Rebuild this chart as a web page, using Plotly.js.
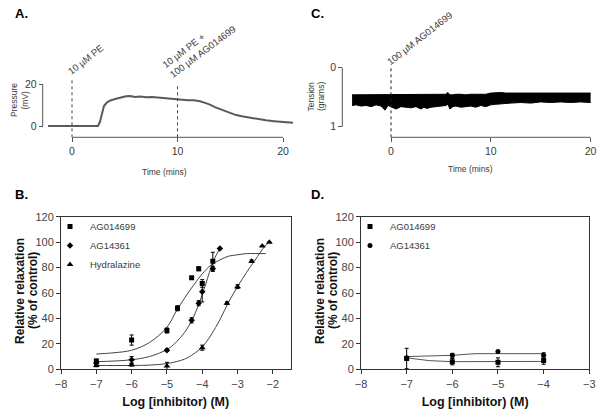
<!DOCTYPE html>
<html>
<head>
<meta charset="utf-8">
<script src="https://cdn.plot.ly/plotly-3.0.1.min.js"></script>
<style>html,body{margin:0;padding:0;background:#fff;}#chart{width:602px;height:420px;}</style>
</head>
<body>
<div id="chart"></div>
<script>
// ---------- Panel A: perfusion pressure trace ----------
const timeA = [-2.27, 2.46, 2.65, 2.84, 3.03, 3.32, 3.70, 4.17, 4.64, 5.12, 5.50, 5.97, 6.45, 7.01, 7.58, 8.15, 8.72, 9.29, 9.86, 10.43, 11.0, 11.56, 12.13, 12.61, 13.08, 13.55, 14.03, 14.5, 14.98, 15.55, 16.11, 16.87, 17.63, 18.39, 19.15, 19.91, 20.95];
const pressureA = [0, 0, 2, 6, 9.5, 11.3, 12.3, 13.0, 13.6, 14.2, 14.3, 13.8, 14.0, 13.7, 13.8, 13.5, 13.5, 13.0, 12.7, 12.6, 12.3, 12.3, 11.8, 11.0, 10.2, 9.0, 8.0, 7.0, 6.0, 5.2, 4.6, 3.9, 3.2, 2.7, 2.3, 2.0, 1.5];
const ticksA = [0, 10, 20];
const yticksA = [0, 20];

// ---------- Panel C: tension trace (envelope of the noisy band) ----------
const timeC = [-3.9, -3.5, -3, -2.5, -2, -1.5, -1, -0.6, -0.3, 0, 0.5, 1, 1.5, 2, 2.5, 3, 3.3, 3.6, 4, 4.5, 5, 5.5, 5.7, 5.9, 6.2, 6.5, 7, 7.5, 8, 8.5, 9, 9.5, 10, 10.5, 11, 11.5, 12, 13, 14, 15, 16, 17, 18, 19, 20];
const tensionTopC = [0.46, 0.46, 0.45, 0.46, 0.46, 0.45, 0.46, 0.46, 0.45, 0.46, 0.46, 0.46, 0.45, 0.46, 0.46, 0.45, 0.46, 0.46, 0.45, 0.46, 0.46, 0.45, 0.42, 0.46, 0.46, 0.45, 0.45, 0.46, 0.45, 0.45, 0.44, 0.45, 0.43, 0.42, 0.42, 0.43, 0.43, 0.43, 0.42, 0.43, 0.43, 0.42, 0.43, 0.43, 0.43];
const tensionBottomC = [0.64, 0.63, 0.65, 0.64, 0.66, 0.63, 0.65, 0.72, 0.64, 0.66, 0.70, 0.66, 0.67, 0.68, 0.66, 0.70, 0.67, 0.69, 0.67, 0.66, 0.65, 0.64, 0.62, 0.70, 0.66, 0.65, 0.67, 0.66, 0.65, 0.67, 0.64, 0.66, 0.63, 0.62, 0.61, 0.60, 0.60, 0.59, 0.60, 0.58, 0.59, 0.58, 0.59, 0.58, 0.59];
const ticksC = [0, 10, 20];
const yticksC = [0, 1];

// ---------- Panel B: concentration-response ----------
const logAG014699 = [-7, -6, -5, -4.7, -4.3, -4.1, -4, -3.7];
const relAG014699 = [6.5, 23, 30.5, 48, 72, 79, 67.5, 85];
const errAG014699 = [1.5, 4, 2, 2, 0, 1.5, 3, 7];
const logAG14361 = [-7, -6, -5, -4.3, -4.1, -4, -3.7, -3.5];
const relAG14361 = [5, 7.5, 15, 38.5, 52, 61, 79, 95];
const errAG14361 = [1, 2.5, 1, 2, 2, 8, 2, 0];
const logHydralazine = [-7, -6, -5, -4, -3.3, -3, -2.6, -2.3, -2.1];
const relHydralazine = [3, 3.5, 2.5, 17, 52, 65, 85, 97, 100];
const errHydralazine = [1, 1, 3, 2, 1, 1.5, 1, 0, 0];
// fitted curves
const fitXAG014699 = [-7, -6.5, -6, -5.5, -5, -4.75, -4.5, -4.25, -4, -3.75, -3.5, -3.25, -3, -2.75, -2.5, -2.2];
const fitYAG014699 = [12, 13, 15, 21, 33, 45, 56, 66, 75, 82, 86, 89, 90, 91, 91, 91];
const fitXAG14361 = [-7, -6.5, -6, -5.5, -5, -4.75, -4.5, -4.3, -4.1, -4, -3.9, -3.8, -3.7, -3.6, -3.5];
const fitYAG14361 = [6, 6.5, 7.5, 10, 15.5, 21, 29, 38, 51, 59, 67, 76, 84, 90, 95];
const fitXHydralazine = [-7, -6.5, -6, -5.5, -5, -4.5, -4.25, -4, -3.75, -3.5, -3.25, -3, -2.75, -2.5, -2.25, -2.1];
const fitYHydralazine = [3, 3, 3, 3.3, 4.5, 8, 12, 17.5, 27, 39, 53, 65, 76, 86, 96, 100];
const ticksB = [-8, -7, -6, -5, -4, -3, -2];

// ---------- Panel D ----------
const logD = [-7, -6, -5, -4];
const relD_AG014699 = [8.5, 6, 5.5, 7];
const errD_AG014699 = [8, 2.5, 3.5, 3];
const relD_AG14361 = [9, 11, 14, 11];
const errD_AG14361 = [1, 1.5, 0, 2];
const fitXD_upper = [-7, -6, -5.5, -5, -4];
const fitYD_upper = [10, 11, 12.3, 12.3, 12.3];
const fitXD_lower = [-7, -6.5, -6, -5, -4];
const fitYD_lower = [9, 6.8, 6, 6, 6.2];
const ticksD = [-8, -7, -6, -5, -4, -3];

// ---------- helpers for pixel placement ----------
const W = 602, H = 420;
const px = v => v / W;
const py = v => 1 - v / H;
const FONT = 'Liberation Sans, Arial, sans-serif';
const TXT = '#3a3a3a';
const AX = '#555';

const errStyle = arr => ({type: 'data', array: arr, visible: true, color: '#000', thickness: 1, width: 2});

const traces = [
  // A
  {x: timeA, y: pressureA, xaxis: 'x', yaxis: 'y', mode: 'lines', line: {color: '#5a5a5a', width: 2}, showlegend: false, hoverinfo: 'skip'},
  // C band
  {x: timeC, y: tensionBottomC, xaxis: 'x2', yaxis: 'y2', mode: 'lines', line: {color: '#000', width: 1}, showlegend: false, hoverinfo: 'skip'},
  {x: timeC, y: tensionTopC, xaxis: 'x2', yaxis: 'y2', mode: 'lines', line: {color: '#000', width: 1}, fill: 'tonexty', fillcolor: '#000', showlegend: false, hoverinfo: 'skip'},
  // B fits
  {x: fitXAG014699, y: fitYAG014699, xaxis: 'x3', yaxis: 'y3', mode: 'lines', line: {color: '#444', width: 1, shape: 'spline'}, showlegend: false},
  {x: fitXAG14361, y: fitYAG14361, xaxis: 'x3', yaxis: 'y3', mode: 'lines', line: {color: '#444', width: 1, shape: 'spline'}, showlegend: false},
  {x: fitXHydralazine, y: fitYHydralazine, xaxis: 'x3', yaxis: 'y3', mode: 'lines', line: {color: '#444', width: 1, shape: 'spline'}, showlegend: false},
  // B data
  {x: logAG014699, y: relAG014699, error_y: errStyle(errAG014699), xaxis: 'x3', yaxis: 'y3', mode: 'markers', name: 'AG014699', marker: {symbol: 'square', size: 5, color: '#000'}, legend: 'legend'},
  {x: logAG14361, y: relAG14361, error_y: errStyle(errAG14361), xaxis: 'x3', yaxis: 'y3', mode: 'markers', name: 'AG14361', marker: {symbol: 'diamond', size: 5, color: '#000'}, legend: 'legend'},
  {x: logHydralazine, y: relHydralazine, error_y: errStyle(errHydralazine), xaxis: 'x3', yaxis: 'y3', mode: 'markers', name: 'Hydralazine', marker: {symbol: 'triangle-up', size: 6, color: '#000'}, legend: 'legend'},
  // D fits
  {x: fitXD_upper, y: fitYD_upper, xaxis: 'x4', yaxis: 'y4', mode: 'lines', line: {color: '#555', width: 1}, showlegend: false},
  {x: fitXD_lower, y: fitYD_lower, xaxis: 'x4', yaxis: 'y4', mode: 'lines', line: {color: '#555', width: 1}, showlegend: false},
  // D data
  {x: logD, y: relD_AG014699, error_y: errStyle(errD_AG014699), xaxis: 'x4', yaxis: 'y4', mode: 'markers', name: 'AG014699', marker: {symbol: 'square', size: 5, color: '#000'}, legend: 'legend2'},
  {x: logD, y: relD_AG14361, error_y: errStyle(errD_AG14361), xaxis: 'x4', yaxis: 'y4', mode: 'markers', name: 'AG14361', marker: {symbol: 'circle', size: 5, color: '#000'}, legend: 'legend2'}
];

const traceAxisX = (domain, range, pos, tv) => ({
  domain: domain, range: range, anchor: 'free', position: pos,
  tickvals: tv, ticks: 'outside', ticklen: 4, tickcolor: AX, tickwidth: 1,
  showline: false, zeroline: false, showgrid: false,
  tickfont: {family: FONT, size: 10.5, color: TXT},
  automargin: false, fixedrange: true
});
const traceAxisY = (domain, range, pos, tv) => ({
  domain: domain, range: range, anchor: 'free', position: pos,
  tickvals: tv, ticks: 'outside', ticklen: 4, tickcolor: AX, tickwidth: 1,
  showline: false, zeroline: false, showgrid: false,
  tickfont: {family: FONT, size: 10.5, color: TXT},
  automargin: false, fixedrange: true
});
const doseX = (domain, range, anchor, tv) => ({
  domain: domain, range: range, anchor: anchor, tickvals: tv,
  ticks: 'outside', ticklen: 4, tickcolor: '#333', tickwidth: 1,
  showline: true, mirror: true, linecolor: '#333', linewidth: 1,
  zeroline: false, showgrid: false,
  tickfont: {family: FONT, size: 11, color: '#444'},
  title: {text: 'Log [inhibitor) (M)', font: {family: FONT, size: 12.5, color: '#111', weight: 'bold'}, standoff: 8},
  automargin: false, fixedrange: true
});
const doseY = (domain, anchor) => ({
  domain: domain, range: [0, 120], anchor: anchor, dtick: 20,
  ticks: 'outside', ticklen: 4, tickcolor: '#333', tickwidth: 1,
  showline: true, mirror: true, linecolor: '#333', linewidth: 1,
  zeroline: false, showgrid: false,
  tickfont: {family: FONT, size: 11, color: '#444'},
  automargin: false, fixedrange: true
});

const axisYA = 137.3;
const smallTitle = (text, x, y, angle) => ({text: text, xref: 'paper', yref: 'paper', x: px(x), y: py(y), xanchor: 'center', yanchor: 'middle', textangle: angle, showarrow: false, font: {family: FONT, size: 8.5, color: TXT}});
const boldTitle = (text, x, y) => ({text: text, xref: 'paper', yref: 'paper', x: px(x), y: py(y), xanchor: 'center', yanchor: 'middle', textangle: -90, showarrow: false, font: {family: FONT, size: 12, color: '#111', weight: 'bold'}});
const letter = (text, x, y) => ({text: '<b>' + text + '</b>', xref: 'paper', yref: 'paper', x: px(x), y: py(y), xanchor: 'left', yanchor: 'middle', showarrow: false, font: {family: FONT, size: 13, color: '#000'}});

const layout = {
  width: W, height: H,
  margin: {l: 0, r: 0, t: 0, b: 0},
  paper_bgcolor: '#fff', plot_bgcolor: 'rgba(0,0,0,0)',
  font: {family: FONT, color: TXT},
  // A
  xaxis: traceAxisX([px(45), px(300)], [(45 - 72) / 10.55, (300 - 72) / 10.55], py(axisYA), ticksA),
  yaxis: traceAxisY([py(140), py(40)], [(126 - 140) / 2.1, (126 - 40) / 2.1], px(42.7), yticksA),
  // C
  xaxis2: traceAxisX([px(345), px(600)], [(345 - 391) / 9.98, (600 - 391) / 9.98], py(axisYA), ticksC),
  yaxis2: traceAxisY([py(140), py(40)], [(140 - 67.7) / 59, (40 - 67.7) / 59], px(342.3), yticksC),
  // B
  xaxis3: doseX([px(61), px(290.5)], [-8, -1.5], 'y3', ticksB),
  yaxis3: doseY([py(369.3), py(216.7)], 'x3'),
  // D
  xaxis4: doseX([px(361), px(589.3)], [-8, -3], 'y4', ticksD),
  yaxis4: doseY([py(369.3), py(216.7)], 'x4'),
  legend: {x: px(50), y: py(212), xanchor: 'left', yanchor: 'top', bgcolor: 'rgba(0,0,0,0)', borderwidth: 0, traceorder: 'normal',
           font: {family: FONT, size: 9.5, color: TXT}, itemwidth: 30, tracegroupgap: 0},
  legend2: {x: px(350), y: py(212), xanchor: 'left', yanchor: 'top', bgcolor: 'rgba(0,0,0,0)', borderwidth: 0, traceorder: 'normal',
           font: {family: FONT, size: 9.5, color: TXT}, itemwidth: 30, tracegroupgap: 0},
  shapes: [
    // offset axis lines for A and C
    {type: 'line', xref: 'x', yref: 'paper', x0: 0, x1: 20, y0: py(axisYA), y1: py(axisYA), line: {color: AX, width: 1}},
    {type: 'line', xref: 'paper', yref: 'y', x0: px(42.7), x1: px(42.7), y0: 0, y1: 20, line: {color: AX, width: 1}},
    {type: 'line', xref: 'x2', yref: 'paper', x0: 0, x1: 20, y0: py(axisYA), y1: py(axisYA), line: {color: AX, width: 1}},
    {type: 'line', xref: 'paper', yref: 'y2', x0: px(342.3), x1: px(342.3), y0: 0, y1: 1, line: {color: AX, width: 1}},
    // drug addition markers
    {type: 'line', xref: 'x', yref: 'paper', x0: 0, x1: 0, y0: py(axisYA), y1: py(79), line: {color: '#444', width: 1, dash: 'dot'}},
    {type: 'line', xref: 'x', yref: 'paper', x0: 10, x1: 10, y0: py(axisYA), y1: py(85), line: {color: '#444', width: 1, dash: 'dot'}},
    {type: 'line', xref: 'x2', yref: 'paper', x0: 0, x1: 0, y0: py(axisYA), y1: py(66), line: {color: '#222', width: 1, dash: 'dot'}}
  ],
  annotations: [
    letter('A.', 13, 13), letter('C.', 309, 13), letter('B.', 13, 194), letter('D.', 309, 194),
    smallTitle('Pressure', 14, 100, -90), smallTitle('(mV)', 24.5, 100, -90),
    smallTitle('Time (mins)', 164, 172, 0),
    smallTitle('Tension', 310.5, 97, -90), smallTitle('(grams)', 321, 97, -90),
    smallTitle('Time (mins)', 470, 169, 0),
    boldTitle('Relative relaxation', 20, 291), boldTitle('(% of control)', 33, 291),
    boldTitle('Relative relaxation', 320, 291), boldTitle('(% of control)', 333, 291),
    {text: '10 µM PE', xref: 'x', yref: 'paper', x: 0, y: py(80), xanchor: 'left', yanchor: 'bottom', xshift: -9, textangle: -38, showarrow: false, font: {family: FONT, size: 9.5, color: TXT}},
    {text: '10 µM PE +<br>100 µM AG014699', align: 'left', xref: 'x', yref: 'paper', x: 10, y: py(82), xanchor: 'left', yanchor: 'bottom', xshift: -20, textangle: -37, showarrow: false, font: {family: FONT, size: 9.5, color: TXT}},
    {text: '100 µM AG014699', xref: 'x2', yref: 'paper', x: 0, y: py(70), xanchor: 'left', yanchor: 'bottom', xshift: -9, textangle: -38, showarrow: false, font: {family: FONT, size: 9.5, color: TXT}}
  ]
};

Plotly.newPlot('chart', traces, layout, {displayModeBar: false, staticPlot: true});
</script>
</body>
</html>
